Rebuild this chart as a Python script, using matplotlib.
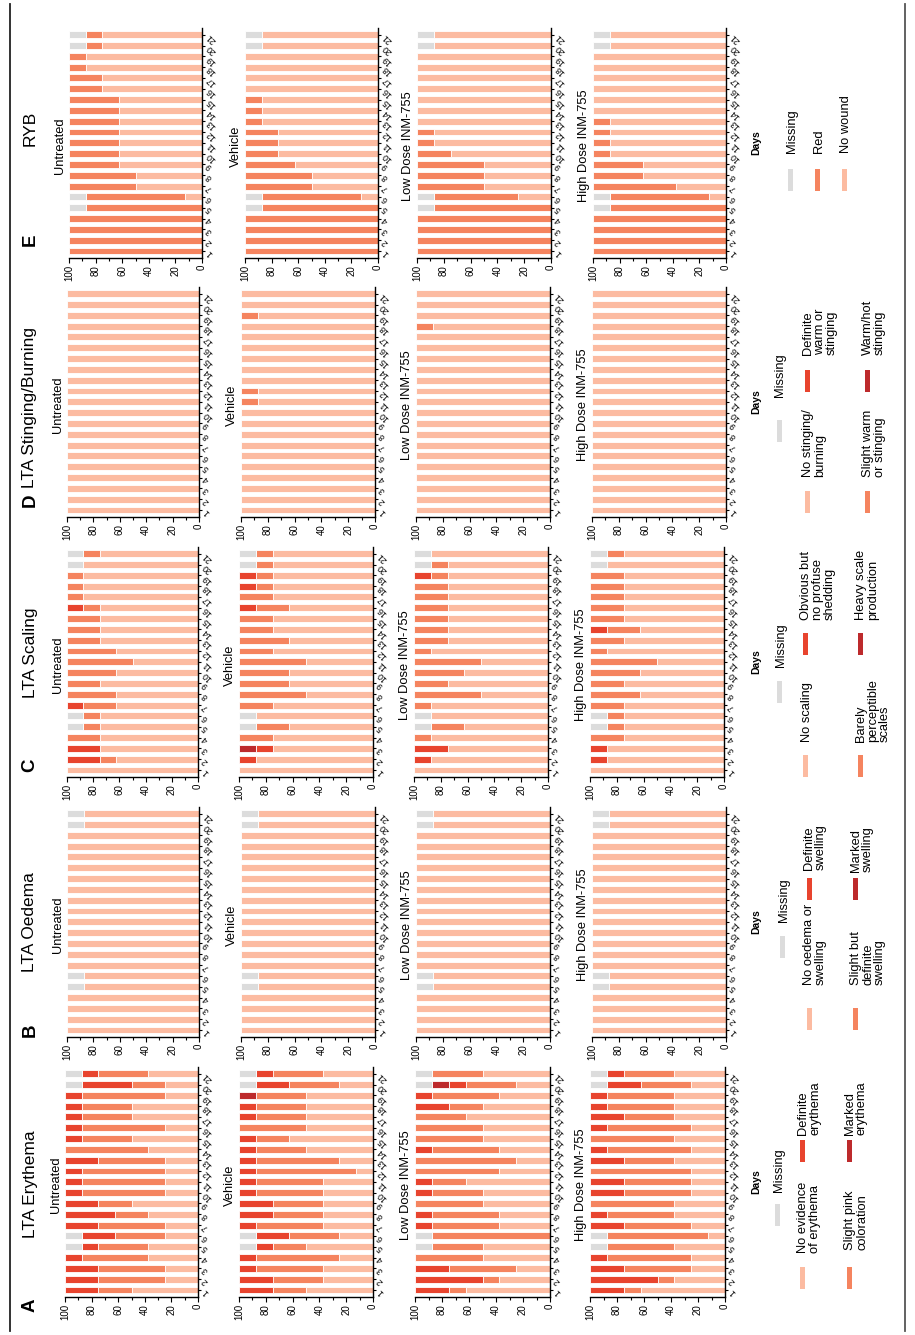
import matplotlib
matplotlib.use("Agg")
import matplotlib.pyplot as plt
import numpy as np
from matplotlib.patches import Rectangle
from matplotlib.lines import Line2D
from matplotlib.ticker import FixedLocator

plt.rcParams['font.family'] = ['Liberation Sans', 'DejaVu Sans']

# ---------------------------------------------------------------- data
DAYS = list(range(1, 22))
GROUPS = ["Untreated", "Vehicle", "Low Dose INM-755", "High Dose INM-755"]
PANEL_LETTERS = ["A", "B", "C", "D", "E"]
PANEL_TITLES = ["LTA Erythema", "LTA Oedema", "LTA Scaling", "LTA Stinging/Burning", "RYB"]
# stack order (from 0): grade0, grade1, grade2, grade3, missing
CATEGORY_COLORS = ["#FCBBA1", "#F5845F", "#E8442E", "#BD2A2C", "#DCDCDC"]

LEGEND_ERY = ["Missing", "No evidence\nof erythema", "Definite\nerythema", "Slight pink\ncoloration", "Marked\nerythema"]
LEGEND_OED = ["Missing", "No oedema or\nswelling", "Definite\nswelling", "Slight but\ndefinite\nswelling", "Marked\nswelling"]
LEGEND_SCA = ["Missing", "No scaling", "Obvious but\nno profuse\nshedding", "Barely\nperceptible\nscales", "Heavy scale\nproduction"]
LEGEND_STI = ["Missing", "No stinging/\nburning", "Definite\nwarm or\nstinging", "Slight warm\nor stinging", "Warm/hot\nstinging"]
LEGEND_RYB = ["Missing", "Red", "No wound"]

# rows = days 1..21 : (grade0, grade1, grade2, grade3, missing) in %
ERY_UNTREATED = [
    (50, 25, 25, 0, 0), (25, 50, 25, 0, 0), (25, 50, 25, 0, 0), (37.5, 50, 12.5, 0, 0),
    (37.5, 37.5, 12.5, 0, 12.5), (25, 37.5, 25, 0, 12.5), (25, 50, 25, 0, 0), (37.5, 25, 37.5, 0, 0),
    (50, 25, 25, 0, 0), (25, 62.5, 12.5, 0, 0), (25, 62.5, 12.5, 0, 0), (25, 62.5, 12.5, 0, 0),
    (25, 50, 25, 0, 0), (37.5, 62.5, 0, 0, 0), (50, 37.5, 12.5, 0, 0), (25, 62.5, 12.5, 0, 0),
    (50, 37.5, 12.5, 0, 0), (50, 37.5, 12.5, 0, 0), (25, 62.5, 12.5, 0, 0), (25, 25, 37.5, 0, 12.5),
    (37.5, 37.5, 12.5, 0, 12.5),
]
ERY_VEHICLE = [
    (50, 25, 25, 0, 0), (37.5, 37.5, 25, 0, 0), (37.5, 50, 12.5, 0, 0), (25, 62.5, 12.5, 0, 0),
    (50, 25, 12.5, 0, 12.5), (25, 37.5, 25, 0, 12.5), (37.5, 50, 12.5, 0, 0), (37.5, 37.5, 25, 0, 0),
    (37.5, 37.5, 25, 0, 0), (37.5, 50, 12.5, 0, 0), (37.5, 50, 12.5, 0, 0), (12.5, 75, 12.5, 0, 0),
    (25, 62.5, 12.5, 0, 0), (50, 37.5, 12.5, 0, 0), (62.5, 25, 12.5, 0, 0), (50, 50, 0, 0, 0),
    (50, 37.5, 12.5, 0, 0), (50, 37.5, 12.5, 0, 0), (50, 37.5, 0, 12.5, 0), (25, 37.5, 25, 0, 12.5),
    (37.5, 37.5, 12.5, 0, 12.5),
]
ERY_LOW = [
    (62.5, 12.5, 25, 0, 0), (37.5, 12.5, 50, 0, 0), (25, 50, 25, 0, 0), (50, 50, 0, 0, 0),
    (50, 37.5, 0, 0, 12.5), (0, 87.5, 0, 0, 12.5), (37.5, 50, 12.5, 0, 0), (37.5, 50, 12.5, 0, 0),
    (50, 50, 0, 0, 0), (50, 37.5, 12.5, 0, 0), (62.5, 25, 12.5, 0, 0), (37.5, 62.5, 0, 0, 0),
    (25, 75, 0, 0, 0), (37.5, 50, 12.5, 0, 0), (50, 50, 0, 0, 0), (50, 50, 0, 0, 0),
    (62.5, 37.5, 0, 0, 0), (50, 25, 25, 0, 0), (37.5, 50, 12.5, 0, 0), (25, 37.5, 12.5, 12.5, 12.5),
    (50, 37.5, 0, 0, 12.5),
]
ERY_HIGH = [
    (62.5, 12.5, 25, 0, 0), (37.5, 12.5, 50, 0, 0), (25, 50, 25, 0, 0), (25, 62.5, 12.5, 0, 0),
    (37.5, 50, 0, 0, 12.5), (12.5, 75, 0, 0, 12.5), (25, 50, 25, 0, 0), (37.5, 50, 12.5, 0, 0),
    (37.5, 62.5, 0, 0, 0), (25, 50, 25, 0, 0), (25, 50, 25, 0, 0), (25, 75, 0, 0, 0),
    (37.5, 37.5, 25, 0, 0), (25, 62.5, 12.5, 0, 0), (37.5, 62.5, 0, 0, 0), (25, 62.5, 12.5, 0, 0),
    (37.5, 37.5, 25, 0, 0), (37.5, 50, 12.5, 0, 0), (37.5, 50, 12.5, 0, 0), (25, 37.5, 25, 0, 12.5),
    (37.5, 37.5, 12.5, 0, 12.5),
]

OED_UNTREATED = [
    (100, 0, 0, 0, 0), (100, 0, 0, 0, 0), (100, 0, 0, 0, 0), (100, 0, 0, 0, 0),
    (87.5, 0, 0, 0, 12.5), (87.5, 0, 0, 0, 12.5), (100, 0, 0, 0, 0), (100, 0, 0, 0, 0),
    (100, 0, 0, 0, 0), (100, 0, 0, 0, 0), (100, 0, 0, 0, 0), (100, 0, 0, 0, 0),
    (100, 0, 0, 0, 0), (100, 0, 0, 0, 0), (100, 0, 0, 0, 0), (100, 0, 0, 0, 0),
    (100, 0, 0, 0, 0), (100, 0, 0, 0, 0), (100, 0, 0, 0, 0), (87.5, 0, 0, 0, 12.5),
    (87.5, 0, 0, 0, 12.5),
]
OED_VEHICLE = [
    (100, 0, 0, 0, 0), (100, 0, 0, 0, 0), (100, 0, 0, 0, 0), (100, 0, 0, 0, 0),
    (87.5, 0, 0, 0, 12.5), (87.5, 0, 0, 0, 12.5), (100, 0, 0, 0, 0), (100, 0, 0, 0, 0),
    (100, 0, 0, 0, 0), (100, 0, 0, 0, 0), (100, 0, 0, 0, 0), (100, 0, 0, 0, 0),
    (100, 0, 0, 0, 0), (100, 0, 0, 0, 0), (100, 0, 0, 0, 0), (100, 0, 0, 0, 0),
    (100, 0, 0, 0, 0), (100, 0, 0, 0, 0), (100, 0, 0, 0, 0), (87.5, 0, 0, 0, 12.5),
    (87.5, 0, 0, 0, 12.5),
]
OED_LOW = [
    (100, 0, 0, 0, 0), (100, 0, 0, 0, 0), (100, 0, 0, 0, 0), (100, 0, 0, 0, 0),
    (87.5, 0, 0, 0, 12.5), (87.5, 0, 0, 0, 12.5), (100, 0, 0, 0, 0), (100, 0, 0, 0, 0),
    (100, 0, 0, 0, 0), (100, 0, 0, 0, 0), (100, 0, 0, 0, 0), (100, 0, 0, 0, 0),
    (100, 0, 0, 0, 0), (100, 0, 0, 0, 0), (100, 0, 0, 0, 0), (100, 0, 0, 0, 0),
    (100, 0, 0, 0, 0), (100, 0, 0, 0, 0), (100, 0, 0, 0, 0), (87.5, 0, 0, 0, 12.5),
    (87.5, 0, 0, 0, 12.5),
]
OED_HIGH = [
    (100, 0, 0, 0, 0), (100, 0, 0, 0, 0), (100, 0, 0, 0, 0), (100, 0, 0, 0, 0),
    (87.5, 0, 0, 0, 12.5), (87.5, 0, 0, 0, 12.5), (100, 0, 0, 0, 0), (100, 0, 0, 0, 0),
    (100, 0, 0, 0, 0), (100, 0, 0, 0, 0), (100, 0, 0, 0, 0), (100, 0, 0, 0, 0),
    (100, 0, 0, 0, 0), (100, 0, 0, 0, 0), (100, 0, 0, 0, 0), (100, 0, 0, 0, 0),
    (100, 0, 0, 0, 0), (100, 0, 0, 0, 0), (100, 0, 0, 0, 0), (87.5, 0, 0, 0, 12.5),
    (87.5, 0, 0, 0, 12.5),
]

SCA_UNTREATED = [
    (100, 0, 0, 0, 0), (62.5, 12.5, 25, 0, 0), (75, 0, 25, 0, 0), (75, 25, 0, 0, 0),
    (75, 12.5, 0, 0, 12.5), (75, 12.5, 0, 0, 12.5), (62.5, 25, 12.5, 0, 0), (62.5, 37.5, 0, 0, 0),
    (75, 25, 0, 0, 0), (62.5, 37.5, 0, 0, 0), (50, 50, 0, 0, 0), (62.5, 37.5, 0, 0, 0),
    (75, 25, 0, 0, 0), (75, 25, 0, 0, 0), (75, 25, 0, 0, 0), (75, 12.5, 12.5, 0, 0),
    (87.5, 12.5, 0, 0, 0), (87.5, 12.5, 0, 0, 0), (87.5, 12.5, 0, 0, 0), (87.5, 0, 0, 0, 12.5),
    (75, 12.5, 0, 0, 12.5),
]
SCA_VEHICLE = [
    (100, 0, 0, 0, 0), (87.5, 0, 12.5, 0, 0), (75, 0, 12.5, 12.5, 0), (75, 25, 0, 0, 0),
    (62.5, 25, 0, 0, 12.5), (87.5, 0, 0, 0, 12.5), (75, 25, 0, 0, 0), (50, 50, 0, 0, 0),
    (62.5, 37.5, 0, 0, 0), (62.5, 37.5, 0, 0, 0), (50, 50, 0, 0, 0), (75, 25, 0, 0, 0),
    (62.5, 37.5, 0, 0, 0), (75, 25, 0, 0, 0), (75, 25, 0, 0, 0), (62.5, 25, 12.5, 0, 0),
    (75, 25, 0, 0, 0), (75, 12.5, 12.5, 0, 0), (75, 12.5, 12.5, 0, 0), (75, 12.5, 0, 0, 12.5),
    (75, 12.5, 0, 0, 12.5),
]
SCA_LOW = [
    (100, 0, 0, 0, 0), (87.5, 0, 12.5, 0, 0), (75, 0, 25, 0, 0), (87.5, 12.5, 0, 0, 0),
    (62.5, 25, 0, 0, 12.5), (87.5, 0, 0, 0, 12.5), (87.5, 12.5, 0, 0, 0), (50, 50, 0, 0, 0),
    (75, 25, 0, 0, 0), (62.5, 37.5, 0, 0, 0), (50, 50, 0, 0, 0), (87.5, 12.5, 0, 0, 0),
    (75, 25, 0, 0, 0), (75, 25, 0, 0, 0), (75, 25, 0, 0, 0), (75, 25, 0, 0, 0),
    (75, 25, 0, 0, 0), (75, 25, 0, 0, 0), (75, 12.5, 12.5, 0, 0), (75, 12.5, 0, 0, 12.5),
    (87.5, 0, 0, 0, 12.5),
]
SCA_HIGH = [
    (100, 0, 0, 0, 0), (87.5, 0, 12.5, 0, 0), (87.5, 0, 12.5, 0, 0), (75, 25, 0, 0, 0),
    (75, 12.5, 0, 0, 12.5), (75, 12.5, 0, 0, 12.5), (75, 25, 0, 0, 0), (62.5, 37.5, 0, 0, 0),
    (75, 25, 0, 0, 0), (62.5, 37.5, 0, 0, 0), (50, 50, 0, 0, 0), (87.5, 12.5, 0, 0, 0),
    (75, 25, 0, 0, 0), (62.5, 25, 12.5, 0, 0), (75, 25, 0, 0, 0), (75, 25, 0, 0, 0),
    (75, 25, 0, 0, 0), (75, 25, 0, 0, 0), (75, 25, 0, 0, 0), (87.5, 0, 0, 0, 12.5),
    (75, 12.5, 0, 0, 12.5),
]

STI_UNTREATED = [
    (100, 0, 0, 0, 0), (100, 0, 0, 0, 0), (100, 0, 0, 0, 0), (100, 0, 0, 0, 0),
    (100, 0, 0, 0, 0), (100, 0, 0, 0, 0), (100, 0, 0, 0, 0), (100, 0, 0, 0, 0),
    (100, 0, 0, 0, 0), (100, 0, 0, 0, 0), (100, 0, 0, 0, 0), (100, 0, 0, 0, 0),
    (100, 0, 0, 0, 0), (100, 0, 0, 0, 0), (100, 0, 0, 0, 0), (100, 0, 0, 0, 0),
    (100, 0, 0, 0, 0), (100, 0, 0, 0, 0), (100, 0, 0, 0, 0), (100, 0, 0, 0, 0),
    (100, 0, 0, 0, 0),
]
STI_VEHICLE = [
    (100, 0, 0, 0, 0), (100, 0, 0, 0, 0), (100, 0, 0, 0, 0), (100, 0, 0, 0, 0),
    (100, 0, 0, 0, 0), (100, 0, 0, 0, 0), (100, 0, 0, 0, 0), (100, 0, 0, 0, 0),
    (100, 0, 0, 0, 0), (100, 0, 0, 0, 0), (87.5, 12.5, 0, 0, 0), (87.5, 12.5, 0, 0, 0),
    (100, 0, 0, 0, 0), (100, 0, 0, 0, 0), (100, 0, 0, 0, 0), (100, 0, 0, 0, 0),
    (100, 0, 0, 0, 0), (100, 0, 0, 0, 0), (87.5, 12.5, 0, 0, 0), (100, 0, 0, 0, 0),
    (100, 0, 0, 0, 0),
]
STI_LOW = [
    (100, 0, 0, 0, 0), (100, 0, 0, 0, 0), (100, 0, 0, 0, 0), (100, 0, 0, 0, 0),
    (100, 0, 0, 0, 0), (100, 0, 0, 0, 0), (100, 0, 0, 0, 0), (100, 0, 0, 0, 0),
    (100, 0, 0, 0, 0), (100, 0, 0, 0, 0), (100, 0, 0, 0, 0), (100, 0, 0, 0, 0),
    (100, 0, 0, 0, 0), (100, 0, 0, 0, 0), (100, 0, 0, 0, 0), (100, 0, 0, 0, 0),
    (100, 0, 0, 0, 0), (87.5, 12.5, 0, 0, 0), (100, 0, 0, 0, 0), (100, 0, 0, 0, 0),
    (100, 0, 0, 0, 0),
]
STI_HIGH = [
    (100, 0, 0, 0, 0), (100, 0, 0, 0, 0), (100, 0, 0, 0, 0), (100, 0, 0, 0, 0),
    (100, 0, 0, 0, 0), (100, 0, 0, 0, 0), (100, 0, 0, 0, 0), (100, 0, 0, 0, 0),
    (100, 0, 0, 0, 0), (100, 0, 0, 0, 0), (100, 0, 0, 0, 0), (100, 0, 0, 0, 0),
    (100, 0, 0, 0, 0), (100, 0, 0, 0, 0), (100, 0, 0, 0, 0), (100, 0, 0, 0, 0),
    (100, 0, 0, 0, 0), (100, 0, 0, 0, 0), (100, 0, 0, 0, 0), (100, 0, 0, 0, 0),
    (100, 0, 0, 0, 0),
]

# RYB: (no wound, red, -, -, missing)
RYB_UNTREATED = [
    (0, 100, 0, 0, 0), (0, 100, 0, 0, 0), (0, 100, 0, 0, 0), (0, 100, 0, 0, 0),
    (0, 87.5, 0, 0, 12.5), (12.5, 75, 0, 0, 12.5), (50, 50, 0, 0, 0), (50, 50, 0, 0, 0),
    (62.5, 37.5, 0, 0, 0), (62.5, 37.5, 0, 0, 0), (62.5, 37.5, 0, 0, 0), (62.5, 37.5, 0, 0, 0),
    (62.5, 37.5, 0, 0, 0), (62.5, 37.5, 0, 0, 0), (62.5, 37.5, 0, 0, 0), (75, 25, 0, 0, 0),
    (75, 25, 0, 0, 0), (87.5, 12.5, 0, 0, 0), (87.5, 12.5, 0, 0, 0), (75, 12.5, 0, 0, 12.5),
    (75, 12.5, 0, 0, 12.5),
]
RYB_VEHICLE = [
    (0, 100, 0, 0, 0), (0, 100, 0, 0, 0), (0, 100, 0, 0, 0), (0, 100, 0, 0, 0),
    (0, 87.5, 0, 0, 12.5), (12.5, 75, 0, 0, 12.5), (50, 50, 0, 0, 0), (50, 50, 0, 0, 0),
    (62.5, 37.5, 0, 0, 0), (75, 25, 0, 0, 0), (75, 25, 0, 0, 0), (75, 25, 0, 0, 0),
    (87.5, 12.5, 0, 0, 0), (87.5, 12.5, 0, 0, 0), (87.5, 12.5, 0, 0, 0), (100, 0, 0, 0, 0),
    (100, 0, 0, 0, 0), (100, 0, 0, 0, 0), (100, 0, 0, 0, 0), (87.5, 0, 0, 0, 12.5),
    (87.5, 0, 0, 0, 12.5),
]
RYB_LOW = [
    (0, 100, 0, 0, 0), (0, 100, 0, 0, 0), (0, 100, 0, 0, 0), (0, 100, 0, 0, 0),
    (0, 87.5, 0, 0, 12.5), (25, 62.5, 0, 0, 12.5), (50, 50, 0, 0, 0), (50, 50, 0, 0, 0),
    (50, 50, 0, 0, 0), (75, 25, 0, 0, 0), (87.5, 12.5, 0, 0, 0), (87.5, 12.5, 0, 0, 0),
    (100, 0, 0, 0, 0), (100, 0, 0, 0, 0), (100, 0, 0, 0, 0), (100, 0, 0, 0, 0),
    (100, 0, 0, 0, 0), (100, 0, 0, 0, 0), (100, 0, 0, 0, 0), (87.5, 0, 0, 0, 12.5),
    (87.5, 0, 0, 0, 12.5),
]
RYB_HIGH = [
    (0, 100, 0, 0, 0), (0, 100, 0, 0, 0), (0, 100, 0, 0, 0), (0, 100, 0, 0, 0),
    (0, 87.5, 0, 0, 12.5), (12.5, 75, 0, 0, 12.5), (37.5, 62.5, 0, 0, 0), (62.5, 37.5, 0, 0, 0),
    (62.5, 37.5, 0, 0, 0), (87.5, 12.5, 0, 0, 0), (87.5, 12.5, 0, 0, 0), (87.5, 12.5, 0, 0, 0),
    (87.5, 12.5, 0, 0, 0), (100, 0, 0, 0, 0), (100, 0, 0, 0, 0), (100, 0, 0, 0, 0),
    (100, 0, 0, 0, 0), (100, 0, 0, 0, 0), (100, 0, 0, 0, 0), (87.5, 0, 0, 0, 12.5),
    (87.5, 0, 0, 0, 12.5),
]

PANEL_DATA = [
    [ERY_UNTREATED, ERY_VEHICLE, ERY_LOW, ERY_HIGH],
    [OED_UNTREATED, OED_VEHICLE, OED_LOW, OED_HIGH],
    [SCA_UNTREATED, SCA_VEHICLE, SCA_LOW, SCA_HIGH],
    [STI_UNTREATED, STI_VEHICLE, STI_LOW, STI_HIGH],
    [RYB_UNTREATED, RYB_VEHICLE, RYB_LOW, RYB_HIGH],
]

# ---------------------------------------------------------------- layout (pixels, portrait page)
W, H = 915, 1335
fig = plt.figure(figsize=(W / 100, H / 100), dpi=100)


def fx(x):
    return x / W


def fy(y):
    return 1 - y / H


SPINE_Y = [1297, 1037, 777, 517, 258]
AX_H = 230
COLS = [
    [(65, 198), (239, 373), (415, 550), (590, 725)],
    [(67, 199), (241, 375), (416, 550), (592, 726)],
    [(67, 198), (239, 373), (414, 548), (590, 724)],
    [(67, 199), (241, 375), (416, 550), (592, 726)],
    [(69, 202), (245, 378), (417, 551), (593, 726)],
]
TITLE_Y = [1184, 922, 653, 408, 128]
LETTER_Y = [1305, 1030, 765, 500, 240]


def draw_bars(ax, rows):
    arr = np.array(rows, dtype=float)
    days = np.array(DAYS)
    left = np.zeros(len(days))
    for k, color in enumerate(CATEGORY_COLORS):
        w = arr[:, k]
        m = w > 0
        if m.any():
            ax.barh(days[m], w[m], left=left[m], height=0.64, color=color,
                    edgecolor="white", linewidth=0.6)
        left = left + w


for p in range(5):
    sy = SPINE_Y[p]
    for g in range(4):
        x100, x0 = COLS[p][g]
        ax = fig.add_axes([fx(x100), fy(sy), (x0 - x100) / W, AX_H / H])
        draw_bars(ax, PANEL_DATA[p][g])
        ax.set_xlim(100, 0)
        ax.set_ylim(0.35, 21.62)
        for s in ["left", "top"]:
            ax.spines[s].set_visible(False)
        for s in ["bottom", "right"]:
            ax.spines[s].set_linewidth(1.0)
        ax.xaxis.set_major_locator(FixedLocator([0, 20, 40, 60, 80, 100]))
        ax.xaxis.set_minor_locator(FixedLocator([10, 30, 50, 70, 90]))
        ax.yaxis.tick_right()
        ax.set_yticks(DAYS)
        ax.set_yticklabels([str(d) for d in DAYS])
        ax.tick_params(axis="x", which="major", length=3.5, width=0.8,
                       labelsize=7, pad=1.5, labelrotation=90)
        ax.tick_params(axis="x", which="minor", length=2, width=0.8)
        ax.tick_params(axis="y", length=2.5, width=0.8, labelsize=6.3, pad=1.5)
        for lab in ax.get_yticklabels():
            lab.set_rotation(135)
            lab.set_rotation_mode("anchor")
            lab.set_ha("right")
            lab.set_va("center")
        # group label
        fig.text(fx(x100 - 3), fy(sy - 112), GROUPS[g], rotation=90,
                 ha="right", va="center", fontsize=9.3)
    # "Days" label
    fig.text(fx(756), fy(sy - 115), "Days", rotation=90, ha="center",
             va="center", fontsize=7.5, fontweight="bold")
    # panel title & letter
    fig.text(fx(30), fy(TITLE_Y[p]), PANEL_TITLES[p], rotation=90,
             ha="center", va="center", fontsize=12.5)
    fig.text(fx(30), fy(LETTER_Y[p]), PANEL_LETTERS[p], rotation=90,
             ha="center", va="center", fontsize=13.5, fontweight="bold")

# ---------------------------------------------------------------- legends (drawn manually, rotated)
GRAY, LIGHT, PINK, RED, DARK = CATEGORY_COLORS[4], CATEGORY_COLORS[0], CATEGORY_COLORS[1], CATEGORY_COLORS[2], CATEGORY_COLORS[3]
# (patch x, patch y-bottom, text x-left, text y-start, color)
LEG_POS = [
    [(775, 1226, 773, 1192, GRAY), (800, 1289, 797, 1253, LIGHT), (800, 1162, 797, 1135, RED),
     (847, 1289, 844, 1250, PINK), (847, 1162, 844, 1135, DARK)],
    [(780, 958, 778, 922, GRAY), (807, 1030, 803, 985, LIGHT), (807, 900, 803, 870, RED),
     (853, 1030, 850, 985, PINK), (853, 900, 850, 872, DARK)],
    [(777, 703, 775, 667, GRAY), (803, 777, 801, 742, LIGHT), (803, 655, 800, 620, RED),
     (858, 777, 855, 742, PINK), (858, 655, 855, 620, DARK)],
    [(777, 442, 774, 397, GRAY), (805, 513, 802, 477, LIGHT), (805, 392, 802, 355, RED),
     (865, 513, 862, 477, PINK), (865, 392, 862, 355, DARK)],
    [(788, 191, 786, 153, GRAY), (815, 191, 813, 153, PINK), (842, 191, 840, 153, LIGHT)],
]
LEG_LABELS = [LEGEND_ERY, LEGEND_OED, LEGEND_SCA, LEGEND_STI, LEGEND_RYB]

for p in range(5):
    for (px, pyb, tx, ty, col), lab in zip(LEG_POS[p], LEG_LABELS[p]):
        fig.add_artist(Rectangle((fx(px), fy(pyb)), 5 / W, 22 / H,
                                 transform=fig.transFigure, facecolor=col,
                                 edgecolor="none"))
        fig.text(fx(tx), fy(ty), lab, rotation=90, rotation_mode="anchor",
                 ha="left", va="top", fontsize=9.3, linespacing=1.0)

# frame lines
fig.add_artist(Line2D([fx(10), fx(10)], [fy(4), fy(1331)], transform=fig.transFigure,
                      color="#222222", linewidth=1.3))
fig.add_artist(Line2D([fx(905), fx(905)], [fy(4), fy(1331)], transform=fig.transFigure,
                      color="#555555", linewidth=1.3))

fig.savefig("out.png", dpi=100)
